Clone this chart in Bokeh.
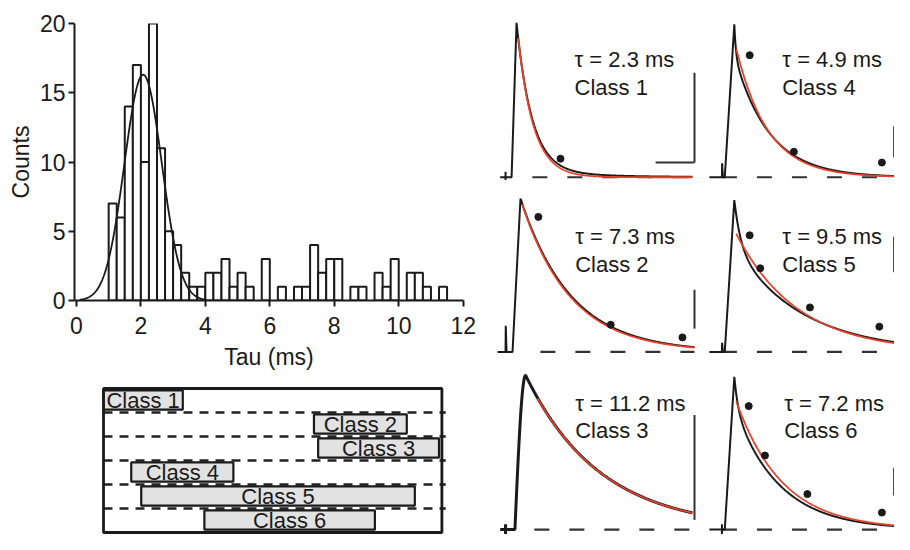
import numpy as np
from bokeh.plotting import figure
from bokeh.layouts import row, column
from bokeh.models import Range1d, FixedTicker, ColumnDataSource
from bokeh.embed import file_html
from bokeh.resources import INLINE
from bokeh.core.properties import value

FONT = "Liberation Sans"
RED = "#e8412c"
INK = "#1a1a1a"

# ---------------- histogram data ----------------
bin_left = [1.0, 1.25, 1.5, 1.75, 2.0, 2.25, 2.5, 2.75, 3.0, 3.25, 3.5, 3.75,
            4.0, 4.25, 4.5, 4.75, 5.0, 5.25, 5.5, 5.75, 6.0, 6.25, 6.5, 6.75,
            7.0, 7.25, 7.5, 7.75, 8.0, 8.25, 8.5, 8.75, 9.0, 9.25, 9.5, 9.75,
            10.0, 10.25, 10.5, 10.75, 11.0, 11.25]
bin_width = 0.25
counts = [7, 6, 14, 17, 10, 20, 11, 5, 4, 2, 1, 1,
          2, 2, 3, 1, 2, 1, 0, 3, 0, 1, 0, 1,
          1, 4, 2, 3, 3, 0, 1, 1, 0, 2, 1, 3,
          0, 2, 2, 1, 0, 1]
gauss_mean = 2.07
gauss_sigma = 0.58
gauss_amp = 16.3
gauss_from, gauss_to = 0.1, 4.0
x_ticks = [0, 2, 4, 6, 8, 10, 12]
y_ticks = [0, 5, 10, 15, 20]

# ---------------- class ranges (tau, ms) ----------------
class_names = ["Class 1", "Class 2", "Class 3", "Class 4", "Class 5", "Class 6"]
class_lo = [0.84, 7.37, 7.5, 1.7, 2.01, 3.97]
class_hi = [3.3, 10.25, 11.25, 4.87, 10.5, 9.26]
class_row = [5, 4, 3, 2, 1, 0]
diagram_lo, diagram_hi = 0.84, 11.34

# ---------------- trace panels (order: row1 L,R; row2 L,R; row3 L,R) ----------------
panel_class = [1, 4, 2, 5, 3, 6]
tau_ms = [2.3, 4.9, 7.3, 9.5, 11.2, 7.2]
t_begin = [0.4, -0.45, 0.0, -0.45, 0.4, -0.45]
t_art = [1.2, 1.5, 1.2, 1.5, 1.2, 1.5]
art_amp = [0.035, 0.09, 0.17, 0.06, 0.035, 0.035]
t_rise = [2.1, 1.94, 2.24, 1.94, 2.6, 1.94]
t_peak = [2.84, 3.43, 3.43, 3.43, 4.2, 3.43]
rounded_peak = [False, False, False, False, True, False]
fast_amp = [0.96, 0.2, 0.0, 0.3, 0.0, 0.2]
fast_tau = [2.3, 0.25, 1.0, 1.0, 1.0, 0.6]
slow_amp = [0.04, 0.79, 1.0, 0.69, 1.0, 0.79]
slow_tau = [10.0, 5.4, 7.5, 10.5, 11.2, 7.0]
t_end = [29.1, 28.4, 29.4, 28.4, 29.1, 28.4]
fit_t0 = [3.1, 3.75, 3.7, 3.73, 6.0, 3.73]
fit_amp = [0.90, 0.83, 0.96, 0.77, 0.85, 0.83]
dots_t = [[9.4], [5.82, 12.7, 26.4], [6.1, 16.9, 27.6], [5.82, 7.46, 15.2, 26.0], [],
          [5.67, 8.2, 14.8, 26.4]]
dots_a = [[0.12], [0.79, 0.165, 0.095], [0.88, 0.177, 0.095], [0.76, 0.545, 0.29, 0.165], [],
          [0.80, 0.48, 0.23, 0.11]]
base_t0 = [5.2, 1.5, 6.4, 1.5, 5.5, 1.5]
base_t1 = [29.4, 28.4, 29.4, 28.4, 29.4, 28.4]
# scale bars: list of segments (t0, a0, t1, a1) per panel
scale_bars = [[(29.4, 0.095, 29.4, 0.677), (23.6, 0.095, 29.4, 0.095)],
              [(28.3, 0.13, 28.3, 0.33)],
              [(29.4, 0.152, 29.4, 0.405)],
              [(28.3, 0.52, 28.3, 0.75)],
              [(29.4, 0.063, 29.4, 0.742)],
              [(28.3, 0.22, 28.3, 0.40)]]

# ---------------- layout geometry ----------------
txt_t = [11.5, 10.9, 11.6, 10.9, 11.6, 11.2]
txt_a_top = [0.76, 0.76, 0.753, 0.753, 0.818, 0.818]
txt_a_bot = [0.582, 0.582, 0.57, 0.57, 0.642, 0.642]
col_w = [225, 187]
col_xr = [(-2.24, 31.34), (-0.746, 28.36)]
row_h = [180, 177, 177]
row_yr = [(-0.021, 1.144), (-0.036, 1.117), (-0.032, 1.115)]


def style_axis(ax):
    ax.axis_line_width = 2
    ax.axis_line_color = INK
    ax.major_tick_line_width = 2
    ax.major_tick_line_color = INK
    ax.major_tick_out = 6
    ax.major_tick_in = 0
    ax.minor_tick_out = 0
    ax.minor_tick_in = 0
    ax.major_label_text_font = FONT
    ax.major_label_text_font_size = "23px"
    ax.major_label_text_color = INK
    ax.axis_label_text_font = FONT
    ax.axis_label_text_font_size = "23px"
    ax.axis_label_text_font_style = "normal"
    ax.axis_label_text_color = INK


# ---------------- histogram ----------------
hist = figure(width=482, height=376, x_range=Range1d(-0.06, 12.01), y_range=Range1d(0, 20),
              output_backend="svg", toolbar_location=None,
              min_border_left=74, min_border_right=19, min_border_top=23, min_border_bottom=76)
hist.grid.visible = False
hist.outline_line_color = None
style_axis(hist.xaxis[0])
style_axis(hist.yaxis[0])
hist.xaxis.ticker = FixedTicker(ticks=x_ticks)
hist.yaxis.ticker = FixedTicker(ticks=y_ticks)
hist.xaxis.axis_label = "Tau (ms)"
hist.yaxis.axis_label = "Counts"
hist.xaxis.major_label_standoff = 10
hist.xaxis.axis_label_standoff = 7
hist.yaxis.major_label_standoff = 3
hist.yaxis.axis_label_standoff = 3

nz = [i for i, c in enumerate(counts) if c > 0]
hsrc = ColumnDataSource(dict(left=[bin_left[i] for i in nz],
                             right=[bin_left[i] + bin_width for i in nz],
                             top=[counts[i] for i in nz]))
hist.quad(left="left", right="right", bottom=0, top="top", source=hsrc,
          fill_color="white", line_color=INK, line_width=2)
gx = np.linspace(gauss_from, gauss_to, 200)
gy = gauss_amp * np.exp(-0.5 * ((gx - gauss_mean) / gauss_sigma) ** 2)
hist.line(gx, gy, line_color=INK, line_width=1.8)

# ---------------- class diagram ----------------
box = figure(width=482, height=158, x_range=Range1d(-0.06, 12.01), y_range=Range1d(-0.083, 6.083),
             output_backend="svg", toolbar_location=None,
             x_axis_location=None, y_axis_location=None,
             min_border_left=74, min_border_right=19, min_border_top=10, min_border_bottom=0)
box.grid.visible = False
box.outline_line_color = None
box.multi_line(xs=[[diagram_lo, diagram_hi + 0.12] for k in range(1, 6)],
               ys=[[k, k] for k in range(1, 6)],
               line_color="#222222", line_width=2.6, line_dash="9 7")
csrc = ColumnDataSource(dict(left=class_lo, right=class_hi,
                             bottom=[r + 0.12 for r in class_row],
                             top=[r + 0.92 for r in class_row],
                             xc=[(a + b) / 2 for a, b in zip(class_lo, class_hi)],
                             yc=[r + 0.52 for r in class_row],
                             name=class_names))
box.quad(left="left", right="right", bottom="bottom", top="top", source=csrc,
         fill_color="#e2e2e2", line_color=INK, line_width=2.2)
box.text(x="xc", y="yc", text="name", source=csrc, text_align="center",
         text_baseline="middle", text_font=value(FONT), text_font_size="22px",
         text_color=INK)
box.quad(left=[diagram_lo], right=[diagram_hi], bottom=[0], top=[6],
         fill_color=None, line_color=INK, line_width=2.8)


# ---------------- trace panels ----------------
def black_trace(i):
    ts = [t_begin[i], t_art[i]]
    ys = [0.0, 0.0]
    if art_amp[i] > 0.05:
        ts += [t_art[i] + 0.03, t_art[i] + 0.15]
        ys += [art_amp[i], 0.0]
    else:
        ts += [t_art[i], t_art[i], t_art[i]]
        ys += [art_amp[i], -art_amp[i], 0.0]
    ts.append(t_rise[i])
    ys.append(0.0)
    peak = fast_amp[i] + slow_amp[i]
    u = np.linspace(0, 1, 30)[1:]
    tr = t_rise[i] + u * (t_peak[i] - t_rise[i])
    yr = peak * (np.sin(np.pi / 2 * u) if rounded_peak[i] else u)
    td = np.linspace(t_peak[i], t_end[i], 500)[1:]
    yd = (fast_amp[i] * np.exp(-(td - t_peak[i]) / fast_tau[i])
          + slow_amp[i] * np.exp(-(td - t_peak[i]) / slow_tau[i]))
    return (np.concatenate([ts, tr, td]), np.concatenate([ys, yr, yd]))


panels = []
for i in range(6):
    r, c = divmod(i, 2)
    p = figure(width=col_w[c], height=row_h[r], x_range=Range1d(*col_xr[c]),
               y_range=Range1d(*row_yr[r]), output_backend="svg", toolbar_location=None,
               x_axis_location=None, y_axis_location=None,
               min_border_left=0, min_border_right=0, min_border_top=0, min_border_bottom=0)
    p.grid.visible = False
    p.outline_line_color = None
    p.line([base_t0[i], base_t1[i]], [0, 0], line_color="#333333", line_width=2.2,
           line_dash="15 20")
    bt, by = black_trace(i)
    p.line(bt, by, line_color=INK, line_width=3.0 if rounded_peak[i] else 2.0)
    ft = np.linspace(fit_t0[i], t_end[i], 300)
    fy = fit_amp[i] * np.exp(-(ft - fit_t0[i]) / tau_ms[i])
    p.line(ft, fy, line_color=RED, line_width=1.8)
    if dots_t[i]:
        p.scatter(dots_t[i], dots_a[i], size=7, color=INK)
    for (x0, y0, x1, y1) in scale_bars[i]:
        p.line([x0, x1], [y0, y1], line_color="#333333", line_width=2)
    p.text(x=[txt_t[i], txt_t[i]], y=[txt_a_top[i], txt_a_bot[i]],
           text=[f"\u03c4 = {tau_ms[i]} ms", f"Class {panel_class[i]}"],
           text_align="left", text_baseline="middle", text_font=value(FONT),
           text_font_size="22px", text_color=INK)
    panels.append(p)

left = column(hist, box)
right = column(row(panels[0], panels[1]), row(panels[2], panels[3]), row(panels[4], panels[5]))
layout = row(left, right)

open("out.html", "w").write(file_html(layout, INLINE))
